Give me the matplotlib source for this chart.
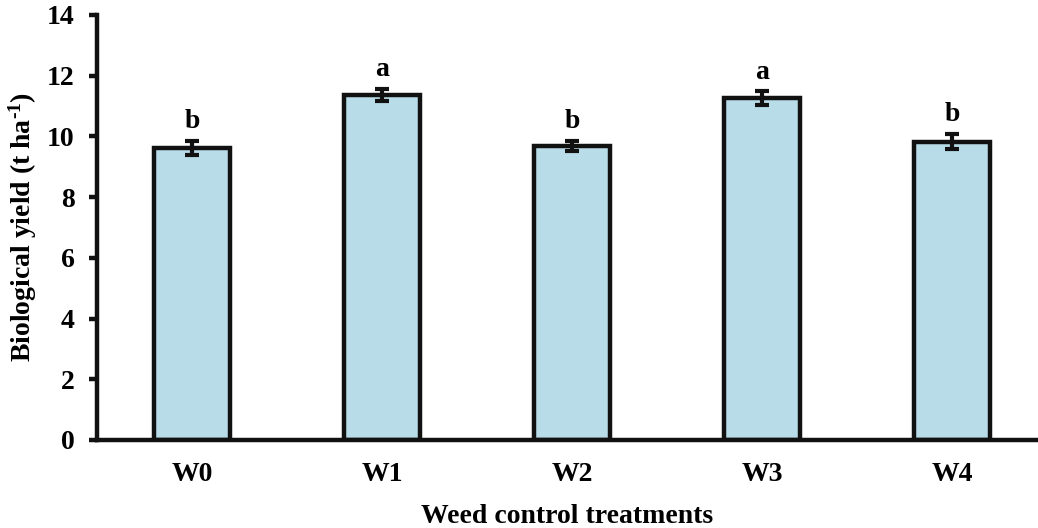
import matplotlib
matplotlib.use("Agg")
import matplotlib.pyplot as plt

categories = ["W0", "W1", "W2", "W3", "W4"]
values = [9.62, 11.36, 9.69, 11.25, 9.83]
errors = [0.24, 0.20, 0.17, 0.23, 0.25]
letters = ["b", "a", "b", "a", "b"]

plt.rcParams['font.family'] = ['Liberation Serif', 'DejaVu Serif']
plt.rcParams['font.weight'] = 'bold'
plt.rcParams['mathtext.fontset'] = 'custom'
plt.rcParams['mathtext.rm'] = 'Liberation Serif:bold'
plt.rcParams['mathtext.bf'] = 'Liberation Serif:bold'
plt.rcParams['mathtext.default'] = 'bf'

fig = plt.figure(figsize=(10.38, 5.28), dpi=100)
ax = fig.add_axes([0.0934, 0.1667, 0.9066, 0.805])

x = list(range(len(categories)))
ax.bar(x, values, width=0.4, color="#B8DDE8", edgecolor="#111111", linewidth=3.2, zorder=2)
ax.errorbar(x, values, yerr=errors, fmt="none", ecolor="#111111", elinewidth=3,
            capsize=5, capthick=3, zorder=3)
for xi, v, e, l in zip(x, values, errors, letters):
    ax.annotate(l, (xi, v + e), xytext=(0, 5), textcoords="offset points",
                ha="center", va="bottom", fontsize=20, fontweight="bold")

ax.set_xlim(-0.5, 4.45)
ax.set_ylim(0, 14)
ax.set_yticks(range(0, 15, 2))
ax.set_xticks(x)
ax.set_xticklabels(categories)
for s in ["top", "right"]:
    ax.spines[s].set_visible(False)
for s in ["left", "bottom"]:
    ax.spines[s].set_linewidth(3.2)
    ax.spines[s].set_color("#111111")
ax.tick_params(axis="y", direction="out", length=6, width=3.2, labelsize=20, pad=10, color="#111111")
ax.tick_params(axis="x", length=0, labelsize=20, pad=16)
for lab in ax.get_xticklabels() + ax.get_yticklabels():
    lab.set_fontweight("bold")

ax.set_ylabel(r"Biological yield (t ha$^{\text{-1}}$)", fontsize=20, fontweight="bold", labelpad=6)
ax.set_xlabel("Weed control treatments", fontsize=20, fontweight="bold", labelpad=12)

fig.savefig("out.png", dpi=100)
